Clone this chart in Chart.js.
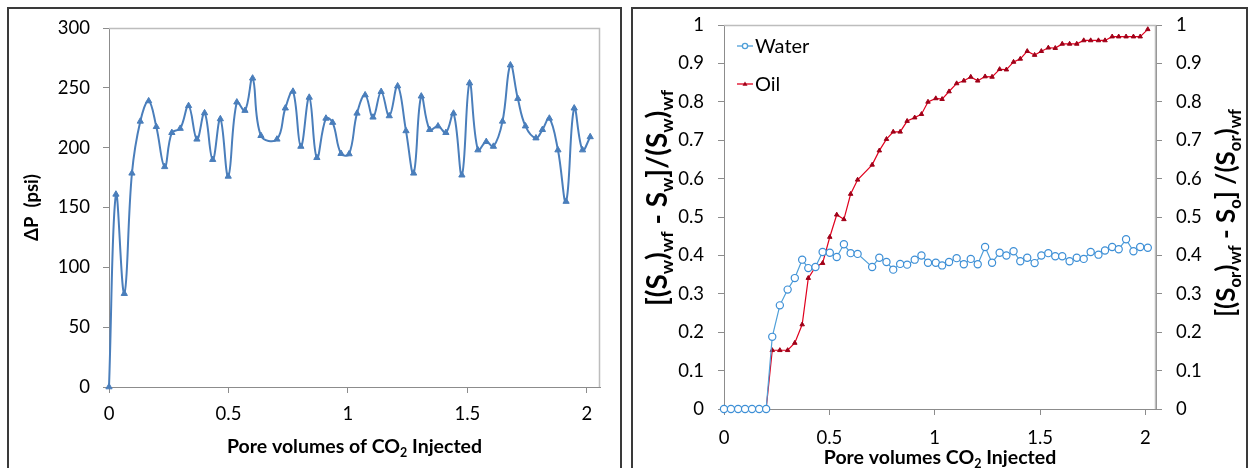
<!DOCTYPE html>
<html>
<head>
<meta charset="utf-8">
<script src="https://cdn.jsdelivr.net/npm/chart.js@4.4.1/dist/chart.umd.min.js"></script>
<style>
  html, body { margin:0; padding:0; background:#fff; width:1249px; height:468px; overflow:hidden; }
  .cv { position:absolute; top:0; }
  .box { position:absolute; box-sizing:border-box; border:2.5px solid #3a3a3a; pointer-events:none; }
</style>
</head>
<body>
<canvas id="c1" class="cv" width="620" height="468" style="left:0;width:620px;height:468px"></canvas>
<canvas id="c2" class="cv" width="629" height="468" style="left:620px;width:629px;height:468px"></canvas>
<div class="box" style="left:7px;top:7px;width:615px;height:480px"></div>
<div class="box" style="left:631px;top:7px;width:617px;height:480px"></div>
<script>
// ---------- Data: left chart (pressure drop) ----------
const pvDP = [0, 0.029, 0.064, 0.096, 0.131, 0.166, 0.198, 0.233, 0.263, 0.298,
  0.333, 0.368, 0.4, 0.434, 0.466, 0.499, 0.535, 0.569, 0.601, 0.636,
  0.703, 0.738, 0.77, 0.803, 0.838, 0.87, 0.908, 0.936, 0.971, 1.005,
  1.038, 1.072, 1.105, 1.139, 1.173, 1.208, 1.243, 1.275, 1.307, 1.342,
  1.377, 1.41, 1.442, 1.477, 1.509, 1.544, 1.579, 1.609, 1.647, 1.68,
  1.711, 1.743, 1.787, 1.814, 1.843, 1.879, 1.913, 1.947, 1.982, 2.014];
const dP = [0, 161, 78, 178.6, 222, 239, 217.5, 184, 212.5, 216,
  235, 207, 229, 190, 224, 176, 238, 231, 258, 210,
  207, 233, 247, 201, 242, 191.6, 224.5, 221, 195, 194.7,
  228.7, 244, 225.4, 246.8, 226.5, 251.5, 214, 178.6, 243, 215,
  218, 212.5, 228.7, 177, 254, 198, 205, 201, 222, 269,
  241, 218, 208, 215, 224.5, 198, 155, 233, 198, 209];
const dpTicksY = [0, 50, 100, 150, 200, 250, 300];

// ---------- Data: right chart (saturation change) ----------
const pvSat = [0, 0.033, 0.067, 0.1, 0.133, 0.167, 0.2, 0.229, 0.265, 0.302,
  0.336, 0.371, 0.4, 0.434, 0.468, 0.502, 0.535, 0.569, 0.601, 0.634,
  0.703, 0.737, 0.771, 0.803, 0.836, 0.869, 0.905, 0.937, 0.968, 1.005,
  1.035, 1.068, 1.104, 1.138, 1.171, 1.204, 1.239, 1.272, 1.308, 1.34,
  1.374, 1.406, 1.439, 1.474, 1.506, 1.539, 1.572, 1.605, 1.64, 1.674,
  1.707, 1.74, 1.777, 1.808, 1.842, 1.873, 1.908, 1.943, 1.975, 2.011];
const water = [0, 0, 0, 0, 0, 0, 0, 0.188, 0.27, 0.311,
  0.341, 0.389, 0.367, 0.37, 0.409, 0.407, 0.396, 0.429, 0.406, 0.404,
  0.37, 0.394, 0.383, 0.363, 0.378, 0.376, 0.389, 0.4, 0.381, 0.381,
  0.374, 0.383, 0.393, 0.377, 0.391, 0.377, 0.422, 0.381, 0.407, 0.4,
  0.411, 0.385, 0.394, 0.38, 0.4, 0.406, 0.398, 0.398, 0.385, 0.394,
  0.391, 0.409, 0.402, 0.413, 0.422, 0.416, 0.442, 0.411, 0.422, 0.42];
const oil = [0, 0, 0, 0, 0, 0, 0, 0.153, 0.153, 0.153,
  0.172, 0.22, 0.341, 0.37, 0.38, 0.448, 0.506, 0.494, 0.56, 0.597,
  0.636, 0.673, 0.703, 0.722, 0.722, 0.75, 0.759, 0.768, 0.8, 0.809,
  0.807, 0.827, 0.848, 0.855, 0.865, 0.855, 0.866, 0.865, 0.885, 0.884,
  0.904, 0.912, 0.932, 0.922, 0.932, 0.941, 0.94, 0.951, 0.951, 0.951,
  0.96, 0.96, 0.96, 0.96, 0.97, 0.97, 0.97, 0.97, 0.97, 0.989];
const satTicksY = [0, 0.1, 0.2, 0.3, 0.4, 0.5, 0.6, 0.7, 0.8, 0.9, 1];
const pvTicksX = [0, 0.5, 1, 1.5, 2];

const FONT = 'Lato, "Open Sans", sans-serif';
const TICKFONT = { family: FONT, size: 18.5 };
const TICKCOL = '#000';
const AXISCOL = '#8c8c8c';

function setTicks(list) { return (s) => { s.ticks = list.map(v => ({ value: v })); }; }
function fmt(v) { return String(Math.round(v * 1000) / 1000); }

// rich text (with subscripts) drawn on canvas
function drawRich(ctx, segs, x, y, rot, size, weight) {
  const subSize = size * 0.64;
  let total = 0;
  segs.forEach(s => {
    ctx.font = weight + ' ' + (s.sub ? subSize : size) + 'px ' + FONT;
    s.w = ctx.measureText(s.t).width;
    total += s.w;
  });
  ctx.save();
  ctx.translate(x, y);
  ctx.rotate(rot);
  ctx.fillStyle = '#000';
  ctx.textBaseline = 'alphabetic';
  ctx.textAlign = 'left';
  let cx = -total / 2;
  const base = size * 0.36;
  segs.forEach(s => {
    ctx.font = weight + ' ' + (s.sub ? subSize : size) + 'px ' + FONT;
    ctx.fillText(s.t, cx, s.sub ? base + size * 0.22 : base);
    cx += s.w;
  });
  ctx.restore();
}

const frame = {
  id: 'frame',
  beforeDatasetsDraw(chart) {
    const a = chart.chartArea, ctx = chart.ctx;
    ctx.save();
    ctx.strokeStyle = '#bdbdbd';
    ctx.lineWidth = 1.5;
    ctx.beginPath();
    ctx.moveTo(a.left, a.top + 0.5); ctx.lineTo(a.right - 0.5, a.top + 0.5); ctx.lineTo(a.right - 0.5, a.bottom);
    ctx.stroke();
    ctx.restore();
  }
};

const titles1 = {
  id: 'titles1',
  afterDraw(chart) {
    const ctx = chart.ctx, a = chart.chartArea;
    drawRich(ctx, [{ t: 'ΔP  (psi)' }], 31, (a.top + a.bottom) / 2, -Math.PI / 2, 18.5, 'bold');
    drawRich(ctx, [{ t: 'Pore volumes of CO' }, { t: '2', sub: true }, { t: ' Injected' }],
      (a.left + a.right) / 2, 446, 0, 19.5, 'bold');
  }
};

const titles2 = {
  id: 'titles2',
  afterDraw(chart) {
    const ctx = chart.ctx, a = chart.chartArea;
    drawRich(ctx, [{ t: '[(S' }, { t: 'w', sub: true }, { t: ')' }, { t: 'wf', sub: true }, { t: ' - S' },
      { t: 'w', sub: true }, { t: ']/(S' }, { t: 'w', sub: true }, { t: ')' }, { t: 'wf', sub: true }],
      37, 198, -Math.PI / 2, 28, 'bold');
    drawRich(ctx, [{ t: '[(S' }, { t: 'or', sub: true }, { t: ')' }, { t: 'wf', sub: true }, { t: ' - S' },
      { t: 'o', sub: true }, { t: '] /(S' }, { t: 'or', sub: true }, { t: ')' }, { t: 'wf', sub: true }],
      606, 213, -Math.PI / 2, 26, 'bold');
    drawRich(ctx, [{ t: 'Pore volumes CO' }, { t: '2', sub: true }, { t: ' Injected' }],
      (a.left + a.right) / 2, 457, 0, 19.5, 'bold');
    // legend
    const items = [
      { label: 'Water', y: 46, color: '#4f9fd8', style: 'circle' },
      { label: 'Oil', y: 84, color: '#e0001e', mcolor: '#a00018', style: 'triangle' }
    ];
    items.forEach(it => {
      ctx.save();
      ctx.strokeStyle = it.color; ctx.lineWidth = 1.3;
      ctx.beginPath(); ctx.moveTo(117, it.y); ctx.lineTo(133, it.y); ctx.stroke();
      if (it.style === 'circle') {
        ctx.fillStyle = '#fff';
        ctx.beginPath(); ctx.arc(125, it.y, 2.6, 0, Math.PI * 2); ctx.fill(); ctx.stroke();
      } else {
        ctx.fillStyle = it.mcolor;
        ctx.beginPath(); ctx.moveTo(125, it.y - 2.6); ctx.lineTo(127.5, it.y + 1.8); ctx.lineTo(122.5, it.y + 1.8); ctx.closePath(); ctx.fill();
      }
      ctx.fillStyle = '#000';
      ctx.font = '20px ' + FONT;
      ctx.textBaseline = 'middle';
      ctx.textAlign = 'left';
      ctx.fillText(it.label, 135, it.y + 1);
      ctx.restore();
    });
  }
};

function axisX(maxV, pad) {
  return {
    type: 'linear', min: 0, max: maxV,
    afterBuildTicks: setTicks(pvTicksX),
    ticks: { font: TICKFONT, color: TICKCOL, padding: pad, callback: fmt, maxRotation: 0, autoSkip: false },
    grid: { drawOnChartArea: false, drawTicks: true, tickLength: 6, color: AXISCOL },
    border: { display: true, color: AXISCOL, width: 1 }
  };
}

// ---------- Left chart ----------
new Chart(document.getElementById('c1'), {
  type: 'scatter',
  data: {
    datasets: [{
      data: pvDP.map((x, i) => ({ x: x, y: dP[i] })),
      showLine: true,
      borderColor: '#4a7ebb', borderWidth: 2, tension: 0.4,
      pointStyle: 'triangle', pointRadius: 3.6,
      pointBackgroundColor: '#4a7ebb', pointBorderColor: '#4a7ebb', pointBorderWidth: 1,
      clip: 8
    }]
  },
  options: {
    responsive: false, animation: false, devicePixelRatio: 1,
    layout: { padding: { top: 28, right: 20, left: 0, bottom: 0 } },
    plugins: { legend: { display: false }, tooltip: { enabled: false } },
    scales: {
      x: Object.assign(axisX(2.055, 10), { afterFit: s => { s.height = 81; } }),
      y: {
        min: 0, max: 300,
        afterBuildTicks: setTicks(dpTicksY),
        afterFit: s => { s.width = 109; },
        ticks: { font: TICKFONT, color: TICKCOL, padding: 13, callback: fmt },
        grid: { drawOnChartArea: false, drawTicks: true, tickLength: 6, color: AXISCOL },
        border: { display: true, color: AXISCOL, width: 1 }
      }
    }
  },
  plugins: [frame, titles1]
});

// ---------- Right chart ----------
new Chart(document.getElementById('c2'), {
  type: 'scatter',
  data: {
    datasets: [{
      label: 'Water',
      data: pvSat.map((x, i) => ({ x: x, y: water[i] })),
      showLine: true, yAxisID: 'y',
      borderColor: '#4f9fd8', borderWidth: 1.2, tension: 0,
      pointStyle: 'circle', pointRadius: 3.6,
      pointBackgroundColor: '#ffffff', pointBorderColor: '#3d8fd6', pointBorderWidth: 1.2,
      clip: 8
    }, {
      label: 'Oil',
      data: pvSat.map((x, i) => ({ x: x, y: oil[i] })),
      showLine: true, yAxisID: 'y2',
      borderColor: '#e0001e', borderWidth: 1.2, tension: 0,
      pointStyle: 'triangle', pointRadius: 2.6,
      pointBackgroundColor: '#a00018', pointBorderColor: '#a00018', pointBorderWidth: 1,
      clip: 8
    }]
  },
  options: {
    responsive: false, animation: false, devicePixelRatio: 1,
    layout: { padding: { top: 24, right: 0, left: 0, bottom: 0 } },
    plugins: { legend: { display: false }, tooltip: { enabled: false } },
    scales: {
      x: Object.assign(axisX(2.05, 12), { afterFit: s => { s.height = 59; } }),
      y: {
        position: 'left', min: 0, max: 1,
        afterBuildTicks: setTicks(satTicksY),
        afterFit: s => { s.width = 104; },
        ticks: { font: TICKFONT, color: TICKCOL, padding: 14, callback: fmt },
        grid: { drawOnChartArea: false, drawTicks: true, tickLength: 6, color: AXISCOL },
        border: { display: true, color: AXISCOL, width: 1 }
      },
      y2: {
        position: 'right', min: 0, max: 1,
        afterBuildTicks: setTicks(satTicksY),
        afterFit: s => { s.width = 93; },
        ticks: { font: TICKFONT, color: TICKCOL, padding: 14, callback: fmt },
        grid: { drawOnChartArea: false, drawTicks: true, tickLength: 6, color: AXISCOL },
        border: { display: true, color: AXISCOL, width: 1 }
      }
    }
  },
  plugins: [frame, titles2]
});
</script>
</body>
</html>
